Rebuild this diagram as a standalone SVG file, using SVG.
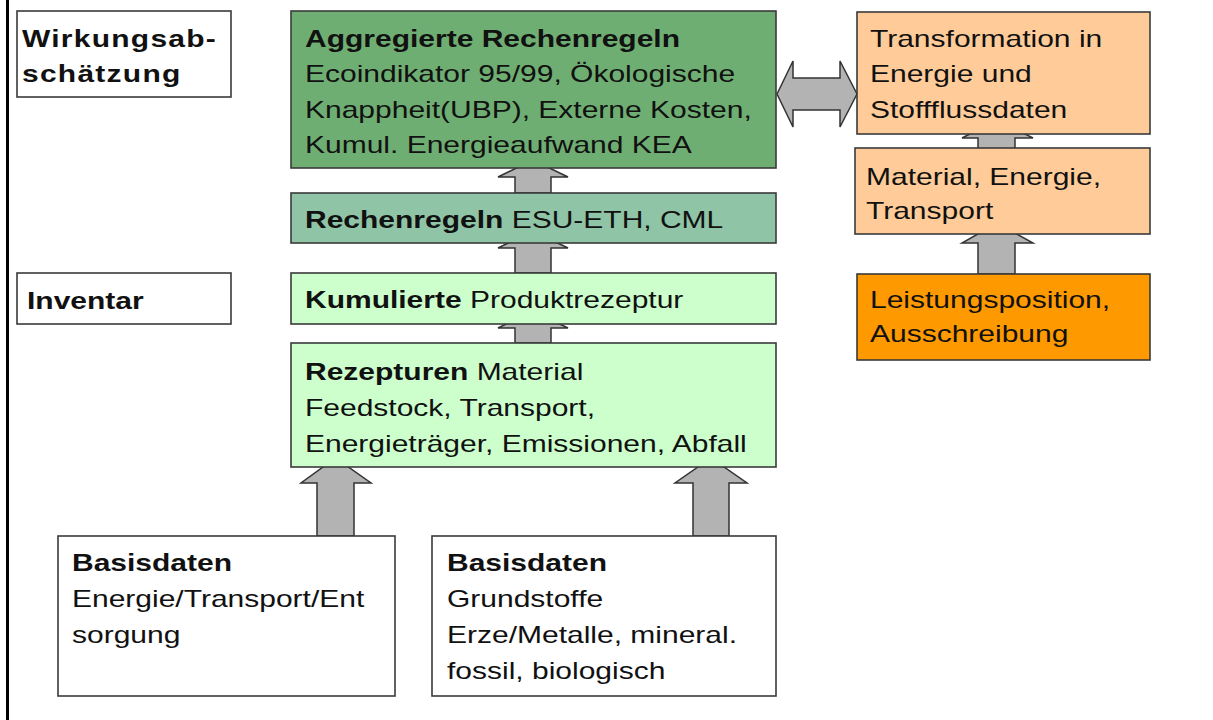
<svg xmlns="http://www.w3.org/2000/svg" width="1213" height="720" viewBox="0 0 1213 720">
<style>
.box{stroke:#3a3a3a;stroke-width:1.6}
.w{fill:#ffffff}
.g1{fill:#6fae72}
.g2{fill:#8fc5a6}
.g3{fill:#ccffcc}
.o1{fill:#ffcc99}
.o2{fill:#ff9900}
.arr{fill:#b3b3b3;stroke:#333333;stroke-width:1.5;stroke-linejoin:miter}
text{font-family:"Liberation Sans",Arial,sans-serif;font-size:24px;fill:#111111}
.b{font-weight:bold}
.ls{letter-spacing:1px}
</style>
<rect x="0" y="0" width="1213" height="720" fill="#ffffff"/>
<rect x="6" y="0" width="3" height="720" fill="#000000"/>
<g id="connectors">
<polygon class="arr" points="515,193 551,193 551,177 568,177 533,160 498,177 515,177"/>
<polygon class="arr" points="515,273 551,273 551,248 568,248 533,231 498,248 515,248"/>
<polygon class="arr" points="515,343 551,343 551,328 568,328 533,311 498,328 515,328"/>
<polygon class="arr" points="978,152 1015,152 1015,138 1033,138 997,120 962,138 978,138"/>
<polygon class="arr" points="978,274 1015,274 1015,243 1033,243 997,223 962,243 978,243"/>
<polygon class="arr" points="317,536 354,536 354,483 371,483 335.5,458 301,483 317,483"/>
<polygon class="arr" points="693,536 729,536 729,483 747,483 711,458 675,483 693,483"/>
<polygon class="arr" points="777,94 793,61 793,78 840,78 840,61 857,94 840,127 840,110 793,110 793,127"/>
</g>
<g id="wirkung">
<rect class="box w" x="17" y="11" width="214" height="86"/>
<text class="ls" transform="translate(22,47) scale(1.25,1)"><tspan class="b" x="0" y="0">Wirkungsab-</tspan><tspan class="b" x="0" y="35">schätzung</tspan></text>
</g>
<g id="inventar">
<rect class="box w" x="17" y="273" width="214" height="51"/>
<text transform="translate(27,309) scale(1.25,1)"><tspan class="b" x="0" y="0">Inventar</tspan></text>
</g>
<g id="aggregierte">
<rect class="box g1" x="291" y="11" width="485" height="157"/>
<text transform="translate(305,47) scale(1.25,1)"><tspan class="b" x="0" y="0">Aggregierte Rechenregeln</tspan><tspan x="0" y="35.5">Ecoindikator 95/99, Ökologische</tspan><tspan x="0" y="71">Knappheit(UBP), Externe Kosten,</tspan><tspan x="0" y="106.5">Kumul. Energieaufwand KEA</tspan></text>
</g>
<g id="rechenregeln">
<rect class="box g2" x="291" y="193" width="485" height="50"/>
<text transform="translate(305,228) scale(1.25,1)"><tspan class="b" x="0" y="0">Rechenregeln</tspan><tspan> ESU-ETH, CML</tspan></text>
</g>
<g id="kumulierte">
<rect class="box g3" x="291" y="273" width="485" height="51"/>
<text transform="translate(305,308) scale(1.25,1)"><tspan class="b" x="0" y="0">Kumulierte</tspan><tspan> Produktrezeptur</tspan></text>
</g>
<g id="rezepturen">
<rect class="box g3" x="291" y="343" width="485" height="124"/>
<text transform="translate(305,380) scale(1.25,1)"><tspan class="b" x="0" y="0">Rezepturen</tspan><tspan> Material</tspan><tspan x="0" y="36">Feedstock, Transport,</tspan><tspan x="0" y="72">Energieträger, Emissionen, Abfall</tspan></text>
</g>
<g id="basis1">
<rect class="box w" x="58" y="536" width="337" height="160"/>
<text transform="translate(72,571) scale(1.25,1)"><tspan class="b" x="0" y="0">Basisdaten</tspan><tspan x="0" y="36">Energie/Transport/Ent</tspan><tspan x="0" y="72">sorgung</tspan></text>
</g>
<g id="basis2">
<rect class="box w" x="432" y="536" width="344" height="160"/>
<text transform="translate(447,571) scale(1.25,1)"><tspan class="b" x="0" y="0">Basisdaten</tspan><tspan x="0" y="36">Grundstoffe</tspan><tspan x="0" y="72">Erze/Metalle, mineral.</tspan><tspan x="0" y="108">fossil, biologisch</tspan></text>
</g>
<g id="transformation">
<rect class="box o1" x="857" y="12" width="293" height="122"/>
<text transform="translate(870,47) scale(1.25,1)"><tspan x="0" y="0">Transformation in</tspan><tspan x="0" y="35.5">Energie und</tspan><tspan x="0" y="71">Stoffflussdaten</tspan></text>
</g>
<g id="material">
<rect class="box o1" x="855" y="148" width="295" height="86"/>
<text transform="translate(866,185) scale(1.25,1)"><tspan x="0" y="0">Material, Energie,</tspan><tspan x="0" y="34">Transport</tspan></text>
</g>
<g id="leistung">
<rect class="box o2" x="857" y="274" width="293" height="86"/>
<text transform="translate(870,308) scale(1.25,1)"><tspan x="0" y="0">Leistungsposition,</tspan><tspan x="0" y="34">Ausschreibung</tspan></text>
</g>
</svg>
